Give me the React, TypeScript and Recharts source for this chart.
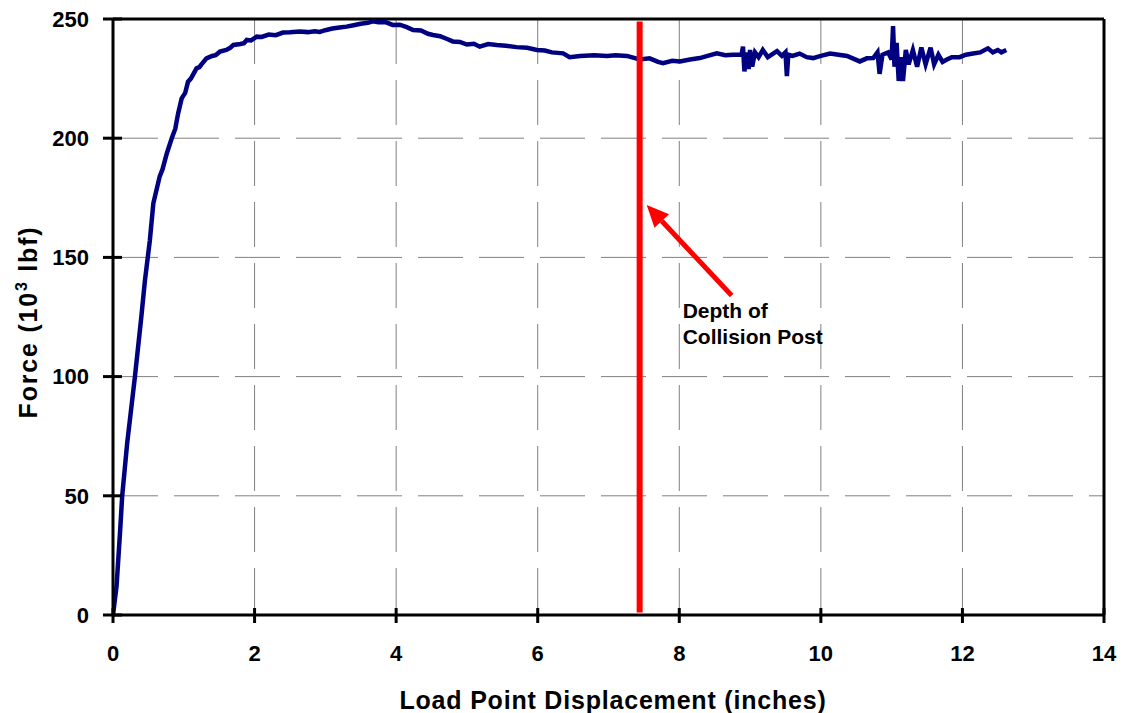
import { LineChart, Line, XAxis, YAxis, CartesianGrid, ReferenceLine } from "recharts";

const displacement = [
  0, 0.05, 0.1, 0.13, 0.2, 0.31, 0.4, 0.45, 0.52, 0.57, 0.66, 0.7, 0.76, 0.83, 0.88, 0.92, 0.97, 1.02, 1.06, 1.1,
  1.18, 1.22, 1.25, 1.32, 1.4, 1.45, 1.51, 1.6, 1.65, 1.7, 1.8, 1.85, 1.89, 1.95, 2.03, 2.1, 2.2, 2.3, 2.4, 2.5,
  2.64, 2.75, 2.85, 2.92, 3.0, 3.1, 3.2, 3.3, 3.4, 3.5, 3.6, 3.67, 3.75, 3.85, 3.95, 4.05, 4.15, 4.24, 4.35, 4.45,
  4.52, 4.62, 4.72, 4.8, 4.9, 5.0, 5.1, 5.18, 5.3, 5.42, 5.55, 5.7, 5.85, 5.99, 6.1, 6.2, 6.36, 6.45, 6.6, 6.8,
  6.98, 7.1, 7.26, 7.44, 7.58, 7.7, 7.77, 7.9, 8.01, 8.15, 8.29, 8.4, 8.53, 8.65, 8.76, 8.88, 8.9, 8.92, 8.95, 8.98,
  9.0, 9.03, 9.07, 9.12, 9.18, 9.25, 9.3, 9.38, 9.45, 9.5, 9.52, 9.54, 9.6, 9.7, 9.8, 9.89, 10.0, 10.13, 10.25, 10.37,
  10.45, 10.55, 10.65, 10.74, 10.8, 10.83, 10.87, 10.95, 11.0, 11.02, 11.04, 11.07, 11.1, 11.13, 11.16, 11.2, 11.24, 11.3, 11.36, 11.42,
  11.48, 11.55, 11.6, 11.66, 11.72, 11.78, 11.85, 11.96, 12.05, 12.15, 12.25, 12.36, 12.43, 12.5, 12.55, 12.62,
];
const force = [
  0, 12, 35, 50, 72, 100, 125, 140, 157, 172.7, 184, 187, 193.6, 200, 204, 210.4, 216.7, 219, 223.7, 225,
  229.3, 229.8, 231, 233.5, 234.5, 234.8, 236.3, 237, 237.8, 239.1, 239.5, 239.8, 241.2, 241, 242.6, 242.5, 243.5, 243.2, 244.3, 244.4,
  244.8, 244.5, 244.9, 244.6, 245.3, 246, 246.4, 246.8, 247.4, 248, 248.4, 249, 248.6, 248.7, 247.5, 247.6, 246.6, 245.4, 245.2, 243.8,
  243.3, 242.8, 241.6, 240.6, 240.4, 239.3, 239.6, 238.4, 239.5, 239.1, 238.8, 238.2, 237.9, 237, 236.8, 236, 235.6, 234, 234.5, 234.8,
  234.5, 234.8, 234.5, 233, 233.5, 232, 231.5, 232.5, 232.2, 233, 233.6, 234.5, 235.6, 234.8, 235, 235, 238.4, 228, 236, 229,
  237, 230, 236, 234, 237, 234, 235, 236.5, 234.5, 236, 226, 235, 234.5, 235.5, 234, 233.6, 234.5, 235.5, 235, 234.5,
  233.5, 232.2, 233.5, 233.6, 236, 227, 235, 236, 233, 247, 230, 240, 224, 234, 224, 237, 231, 237, 230, 238,
  231, 238, 231, 235, 232, 233, 234, 234, 235, 235.5, 236, 237.7, 236, 237, 236, 237,
];

// collision post depth marker and annotation arrow
const postX = [7.44, 7.44];
const postY = [1, 249];
const arrowFrom = { x: 8.74, y: 134 };
const arrowTo = { x: 7.54, y: 172 };
const annotation = ["Depth of", "Collision Post"];

const xTicks = [0, 2, 4, 6, 8, 10, 12, 14];
const yTicks = [0, 50, 100, 150, 200, 250];

const curveData = displacement.map((x, i) => ({ x, y: force[i] }));
const postData = postX.map((x, i) => ({ x, y: postY[i] }));

const FONT = "'Liberation Sans', Arial, sans-serif";

function XTick(props: any) {
  const { x, y, payload } = props;
  return (
    <g>
      <line x1={x} x2={x} y1={y - 37} y2={y - 22} stroke="#000" strokeWidth={3} />
      <text x={x} y={y} dy="0.71em" textAnchor="middle" fontFamily={FONT} fontWeight="bold" fontSize={22} fill="#000">
        {payload.value}
      </text>
    </g>
  );
}

function YTick(props: any) {
  const { x, y, payload } = props;
  return (
    <g>
      <line x1={x + 14} x2={x + 33} y1={y} y2={y} stroke="#000" strokeWidth={3} />
      <text x={x} y={y} dy="0.355em" textAnchor="end" fontFamily={FONT} fontWeight="bold" fontSize={22} fill="#000">
        {payload.value}
      </text>
    </g>
  );
}

function Arrow(props: any) {
  const { x1, y1, x2, y2 } = props;
  const ang = Math.atan2(y2 - y1, x2 - x1);
  const len = 22;
  const half = 10;
  const bx = x2 - len * Math.cos(ang);
  const by = y2 - len * Math.sin(ang);
  const px = -Math.sin(ang) * half;
  const py = Math.cos(ang) * half;
  return (
    <g>
      <line x1={x1} y1={y1} x2={bx} y2={by} stroke="#ff0000" strokeWidth={5} />
      <polygon points={`${x2},${y2} ${bx + px},${by + py} ${bx - px},${by - py}`} fill="#ff0000" />
      <text x={x1 - 49} y={y1 + 22} fontFamily={FONT} fontWeight="bold" fontSize={21} fill="#000">
        <tspan x={x1 - 49}>{annotation[0]}</tspan>
        <tspan x={x1 - 49} dy={26}>{annotation[1]}</tspan>
      </text>
    </g>
  );
}

function YTitle() {
  return (
    <text
      transform="translate(37, 322) rotate(-90)"
      textAnchor="middle"
      fontFamily={FONT}
      fontWeight="bold"
      fontSize={25}
      letterSpacing={1.8}
      fill="#000"
    >
      Force (10<tspan dy={-10} fontSize={16}>3</tspan>
      <tspan dy={10}> lbf)</tspan>
    </text>
  );
}

function XTitle() {
  return (
    <text x={613} y={709} textAnchor="middle" fontFamily={FONT} fontWeight="bold" fontSize={25} letterSpacing={0.8} fill="#000">
      Load Point Displacement (inches)
    </text>
  );
}

export default function App() {
  return (
    <div style={{ position: "absolute", left: 0, top: 0, width: 1125, height: 713, background: "#fff" }}>
      <LineChart width={1125} height={713} margin={{ top: 19, right: 21, bottom: 38, left: 0 }}>
        <CartesianGrid stroke="#808080" strokeDasharray="45 16" />
        <XAxis
          type="number"
          dataKey="x"
          domain={[0, 14]}
          ticks={xTicks}
          height={60}
          tickSize={10}
          tickMargin={20}
          tickLine={false}
          axisLine={{ stroke: "#000", strokeWidth: 3 }}
          tick={<XTick />}
          label={<XTitle />}
          allowDataOverflow
        />
        <YAxis
          type="number"
          domain={[0, 250]}
          ticks={yTicks}
          width={113}
          tickSize={10}
          tickMargin={14}
          tickLine={false}
          axisLine={{ stroke: "#000", strokeWidth: 3 }}
          tick={<YTick />}
          label={<YTitle />}
          allowDataOverflow
        />
        <ReferenceLine y={250} stroke="#000" strokeWidth={3} />
        <ReferenceLine x={14} stroke="#000" strokeWidth={3} />
        <Line
          data={curveData}
          dataKey="y"
          type="linear"
          stroke="#000080"
          strokeWidth={4.5}
          dot={false}
          isAnimationActive={false}
        />
        <Line
          data={postData}
          dataKey="y"
          type="linear"
          stroke="#ff0000"
          strokeWidth={6}
          dot={false}
          isAnimationActive={false}
        />
        <ReferenceLine segment={[arrowFrom, arrowTo]} shape={<Arrow />} />
      </LineChart>
    </div>
  );
}
